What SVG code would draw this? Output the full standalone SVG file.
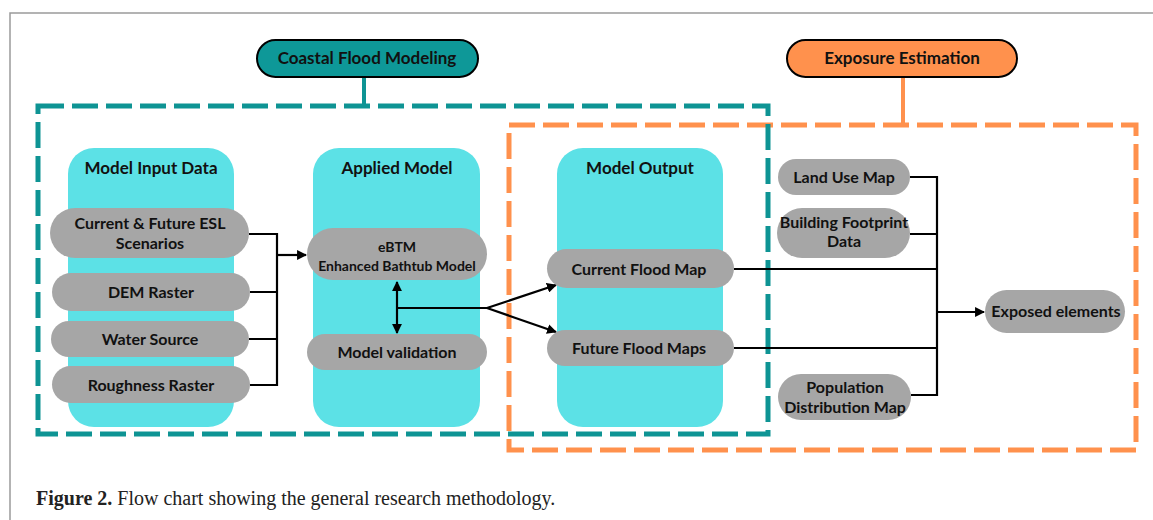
<svg xmlns="http://www.w3.org/2000/svg" width="1153" height="520" viewBox="0 0 1153 520">
<defs>
<style>
.col{fill:#5ce1e6;}
.pill{fill:#a6a6a6;}
.t{font-family:Lato,"Liberation Sans",sans-serif;font-weight:bold;font-size:16px;fill:#111;text-anchor:middle;}
.h{font-size:17px;}
.s{font-size:14px;}
.ln{stroke:#000;stroke-width:2.2;fill:none;}
</style>
<marker id="ah" viewBox="0 0 10 10" refX="9" refY="5" markerWidth="4.5" markerHeight="4.5" orient="auto-start-reverse" markerUnits="strokeWidth">
<path d="M0,0 L10,5 L0,10 z" fill="#000"/>
</marker>
</defs>
<rect width="1153" height="520" fill="#fff"/>
<path d="M10,520 V13 H1153" fill="none" stroke="#9a9a9a" stroke-width="1.5"/>

<g id="exposure-frame">
<line x1="903" y1="77" x2="903" y2="125" stroke="#ff914d" stroke-width="4"/>
<rect x="509" y="125" width="627" height="325" fill="none" stroke="#ff914d" stroke-width="5" stroke-dasharray="26 8"/>
</g>
<g id="coastal-frame">
<line x1="364" y1="77" x2="364" y2="106" stroke="#0e9494" stroke-width="4"/>
<rect x="38" y="106" width="730" height="328" fill="none" stroke="#0e9494" stroke-width="5" stroke-dasharray="26 8"/>
</g>

<g id="coastal-title">
<rect x="257" y="40" width="221" height="37" rx="18.5" fill="#0e9898" stroke="#000" stroke-width="2"/>
<text class="t h" x="367" y="64">Coastal Flood Modeling</text>
</g>
<g id="exposure-title">
<rect x="787" y="40" width="230" height="37" rx="18.5" fill="#ff914d" stroke="#000" stroke-width="2"/>
<text class="t h" x="902" y="64">Exposure Estimation</text>
</g>

<g id="col-input">
<rect class="col" x="68" y="148" width="166" height="279" rx="26"/>
<text class="t h" x="151" y="174">Model Input Data</text>
</g>
<g id="col-applied">
<rect class="col" x="313" y="148" width="167" height="279" rx="26"/>
<text class="t h" x="397" y="174">Applied Model</text>
</g>
<g id="col-output">
<rect class="col" x="557" y="148" width="166" height="279" rx="26"/>
<text class="t h" x="640" y="174">Model Output</text>
</g>

<g id="connectors">
<path class="ln" d="M249,234 H277 V385 H250 M250,292 H277 M249,339 H277"/>
<path class="ln" d="M277,255 H306" marker-end="url(#ah)"/>
<path class="ln" d="M397,282 V333" marker-start="url(#ah)" marker-end="url(#ah)"/>
<path class="ln" d="M397,308 H487"/>
<path class="ln" d="M487,308 L556,285" marker-end="url(#ah)"/>
<path class="ln" d="M487,308 L556,332" marker-end="url(#ah)"/>
<path class="ln" d="M734,269 H937 M734,348 H937 M910,177 H937 V395 H911 M910,234 H937"/>
<path class="ln" d="M937,312 H984" marker-end="url(#ah)"/>
</g>

<g id="esl"><rect class="pill" x="50" y="208" width="199" height="50" rx="25"/>
<text class="t" x="150" y="229">Current &amp; Future ESL</text><text class="t" x="150" y="249">Scenarios</text></g>
<g id="dem"><rect class="pill" x="52" y="273" width="198" height="38" rx="19"/>
<text class="t" x="151" y="298">DEM Raster</text></g>
<g id="water"><rect class="pill" x="51" y="321" width="198" height="36" rx="18"/>
<text class="t" x="150" y="345">Water Source</text></g>
<g id="rough"><rect class="pill" x="52" y="366" width="198" height="37" rx="18.5"/>
<text class="t" x="151" y="391">Roughness Raster</text></g>

<g id="ebtm"><rect class="pill" x="307" y="228" width="180" height="52" rx="26"/>
<text class="t s" x="397" y="252">eBTM</text><text class="t s" x="397" y="271">Enhanced Bathtub Model</text></g>
<g id="validation"><rect class="pill" x="307" y="334" width="180" height="36" rx="18"/>
<text class="t" x="397" y="358">Model validation</text></g>

<g id="current"><rect class="pill" x="547" y="249" width="187" height="39" rx="19.5"/>
<text class="t" x="639" y="275">Current Flood Map</text></g>
<g id="future"><rect class="pill" x="547" y="330" width="187" height="36" rx="18"/>
<text class="t" x="639" y="354">Future Flood Maps</text></g>

<g id="landuse"><rect class="pill" x="778" y="159" width="132" height="36" rx="18"/>
<text class="t" x="844" y="183">Land Use Map</text></g>
<g id="building"><rect class="pill" x="777" y="208" width="133" height="50" rx="25"/>
<text class="t" x="844" y="228">Building Footprint</text><text class="t" x="844" y="247">Data</text></g>
<g id="population"><rect class="pill" x="778" y="374" width="133" height="46" rx="23"/>
<text class="t" x="845" y="393">Population</text><text class="t" x="845" y="413">Distribution Map</text></g>
<g id="exposed"><rect class="pill" x="985" y="290" width="140" height="43" rx="21.5"/>
<text class="t" x="1056" y="317">Exposed elements</text></g>

<text x="36" y="505" font-family="'Liberation Serif',serif" font-size="20" fill="#222"><tspan font-weight="bold">Figure 2.</tspan> Flow chart showing the general research methodology.</text>
</svg>
